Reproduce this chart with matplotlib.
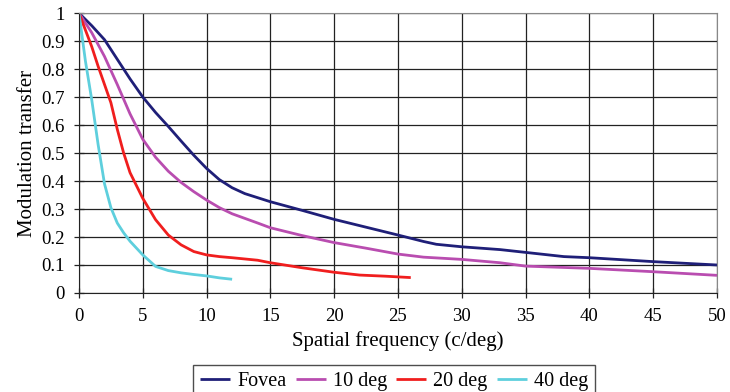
import matplotlib.pyplot as plt

# Modulation transfer vs spatial frequency at several eccentricities
fovea_x = [0, 1, 2, 3, 4, 5, 6, 7, 8, 9, 10, 11, 12, 13, 15, 17.5, 20, 22.5, 25, 27, 28, 30, 33, 35, 38, 40, 45, 50]
fovea_y = [1.0, 0.955, 0.905, 0.835, 0.765, 0.70, 0.645, 0.595, 0.543, 0.492, 0.445, 0.405, 0.376, 0.355, 0.326, 0.295, 0.263, 0.235, 0.207, 0.184, 0.174, 0.165, 0.155, 0.145, 0.13, 0.126, 0.112, 0.1]

deg10_x = [0, 1, 2, 3, 4, 5, 6, 7, 8, 9, 10, 11, 12, 14, 15, 17.5, 20, 22.5, 25, 27, 30, 33, 35, 40, 45, 50]
deg10_y = [1.0, 0.93, 0.845, 0.745, 0.64, 0.549, 0.485, 0.435, 0.395, 0.362, 0.332, 0.305, 0.283, 0.25, 0.233, 0.205, 0.18, 0.16, 0.139, 0.128, 0.12, 0.108, 0.096, 0.088, 0.076, 0.063]

deg20_x = [0, 0.5, 1, 1.5, 2, 2.5, 3, 3.5, 4, 5, 6, 7, 8, 9, 10, 11, 12, 14, 15, 17.5, 20, 22, 24, 26]
deg20_y = [1.0, 0.94, 0.88, 0.81, 0.745, 0.68, 0.585, 0.5, 0.43, 0.338, 0.262, 0.207, 0.172, 0.148, 0.136, 0.13, 0.126, 0.117, 0.108, 0.09, 0.074, 0.064, 0.06, 0.055]

deg40_x = [0, 0.5, 1, 1.5, 2, 2.5, 3, 3.5, 4, 5, 6, 7, 8, 9, 10, 11, 12]
deg40_y = [1.0, 0.83, 0.69, 0.53, 0.39, 0.305, 0.25, 0.215, 0.185, 0.136, 0.095, 0.08, 0.072, 0.066, 0.061, 0.054, 0.049]

series = [
    ('Fovea', fovea_x, fovea_y, '#1f1f78'),
    ('10 deg', deg10_x, deg10_y, '#b94db0'),
    ('20 deg', deg20_x, deg20_y, '#f01e1e'),
    ('40 deg', deg40_x, deg40_y, '#5ecfdd'),
]

plt.rcParams['font.family'] = ['Liberation Serif', 'DejaVu Serif']

fig = plt.figure(figsize=(7.3, 3.92), dpi=100)
ax = fig.add_axes([0.1082, 0.2526, 0.874, 0.714])

for name, x, y, c in series:
    ax.plot(x, y, color=c, lw=2, label=name, solid_capstyle='butt')

ax.set_xlim(0, 50)
ax.set_ylim(0, 1)
ax.set_xticks(range(0, 51, 5))
ax.set_yticks([i / 10 for i in range(11)])
ax.set_yticklabels(['0', '0.1', '0.2', '0.3', '0.4', '0.5', '0.6', '0.7', '0.8', '0.9', '1'])
ax.grid(True, color='#222222', lw=0.9)
ax.set_axisbelow(True)
ax.tick_params(labelsize=13.5, direction='inout', length=7, width=0.9, color='#222222', pad=7)
for side in ['top', 'right']:
    ax.spines[side].set_color('#888888')
for side in ['left', 'bottom']:
    ax.spines[side].set_color('#222222')

ax.set_xlabel('Spatial frequency (c/deg)', fontsize=15, labelpad=5)
ax.set_ylabel('Modulation transfer', fontsize=15, labelpad=3)

fig.legend(loc='upper center', bbox_to_anchor=(0.54, 0.069), ncol=4, fontsize=14.5,
           frameon=True, fancybox=False, edgecolor='#222222', borderaxespad=0,
           handlelength=1.5, columnspacing=0.45, handletextpad=0.35, borderpad=0.35)

fig.savefig('out.png', dpi=100)
